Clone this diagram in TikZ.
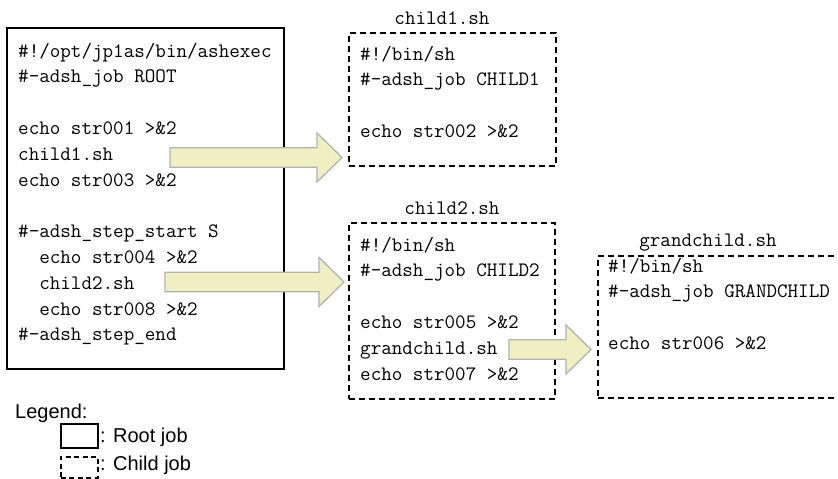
\documentclass[tikz,border=0pt]{standalone}
\usepackage{fontspec}
\setmainfont{Liberation Sans}
\usepackage{xcolor}
\usetikzlibrary{calc}

\definecolor{arrowfill}{RGB}{239,239,193}
\definecolor{arrowline}{RGB}{178,178,178}

\tikzset{
    rootjob/.style={draw, line width=1.8pt, inner sep=0pt},
    childjob/.style={draw, line width=1.8pt, dash pattern=on 6pt off 4pt, inner sep=0pt},
    code/.style={font=\ttfamily\fontsize{20.5}{25.8}\selectfont, align=left, inner sep=0pt, anchor=base west},
    scriptname/.style={font=\ttfamily\fontsize{20.5}{25.8}\selectfont, inner sep=0pt, anchor=base},
    bigarrow/.style={draw=arrowline, fill=arrowfill, line width=1.3pt},
    legendtext/.style={font=\fontsize{20}{24}\selectfont, inner sep=0pt, anchor=base west}
}

% block arrow: tail point, tip point
\newcommand{\blockarrow}[2]{
    \draw[bigarrow] let \p1=(#1), \p2=(#2) in
        (\x1,\y1+9.75pt) -- (\x2-25pt,\y1+9.75pt) -- (\x2-25pt,\y1+24.5pt) -- (\x2,\y1)
        -- (\x2-25pt,\y1-24.5pt) -- (\x2-25pt,\y1-9.75pt) -- (\x1,\y1-9.75pt) -- cycle;
}

\begin{document}
\begin{tikzpicture}[x=1pt, y=-1pt]
    \useasboundingbox (0,0) rectangle (838,479);

    % job boxes
    \node[rootjob, anchor=north west, minimum width=277pt, minimum height=341pt] (root) at (6,27) {};
    \node[childjob, anchor=north west, minimum width=207pt, minimum height=133pt] (child1) at (348,32) {};
    \node[childjob, anchor=north west, minimum width=206pt, minimum height=176pt] (child2) at (348,222) {};
    \node[childjob, anchor=north west, minimum width=252pt, minimum height=142pt] (grand) at (597,255) {};

    % script names
    \node[scriptname] (name1) at (442,24) {child1.sh};
    \node[scriptname] (name2) at (452,214) {child2.sh};
    \node[scriptname] (name3) at (708,246) {grandchild.sh};

    % script contents (placed at the baseline of the last line)
    \node[code] (rootcode) at (18,340.8) {\#!/opt/jp1as/bin/ashexec\\ \#-adsh\_job ROOT\\ \mbox{}\\
        echo str001 >\&2\\ child1.sh\\ echo str003 >\&2\\ \mbox{}\\ \#-adsh\_step\_start S\\
        \hphantom{xx}echo str004 >\&2\\ \hphantom{xx}child2.sh\\ \hphantom{xx}echo str008 >\&2\\ \#-adsh\_step\_end};
    \node[code] (code1) at (360,137.4) {\#!/bin/sh\\ \#-adsh\_job CHILD1\\ \mbox{}\\ echo str002 >\&2};
    \node[code] (code2) at (360,380) {\#!/bin/sh\\ \#-adsh\_job CHILD2\\ \mbox{}\\ echo str005 >\&2\\
        grandchild.sh\\ echo str007 >\&2};
    \node[code] (code3) at (608,349.4) {\#!/bin/sh\\ \#-adsh\_job GRANDCHILD\\ \mbox{}\\ echo str006 >\&2};

    % calls
    \coordinate (call1) at (170,157.5);
    \coordinate (call2) at (165,282);
    \coordinate (call3) at (509,349.5);
    \blockarrow{call1}{$(child1.west |- call1)+(-6,0)$}
    \blockarrow{call2}{$(child2.west |- call2)+(-4,0)$}
    \blockarrow{call3}{$(grand.west |- call3)+(-6,0)$}

    % legend
    \node[legendtext] (legend) at (15,418) {Legend:};
    \node[rootjob, line width=1.5pt, anchor=north west, minimum width=37pt, minimum height=24pt] (legroot) at (60,423) {};
    \node[legendtext] (legroottext) at (100,442) {: Root job};
    \node[childjob, line width=1.5pt, dash pattern=on 5pt off 3.5pt, anchor=north west, minimum width=37pt, minimum height=21pt] (legchild) at (60,456) {};
    \node[legendtext] (legchildtext) at (100,470) {: Child job};
\end{tikzpicture}
\end{document}
